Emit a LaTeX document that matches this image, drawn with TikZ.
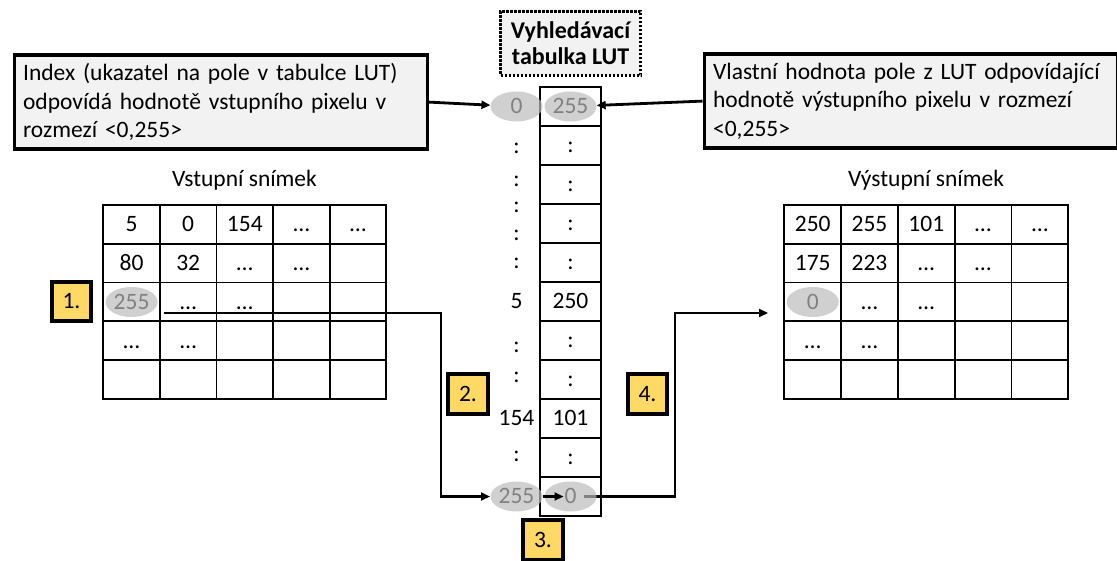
\documentclass[tikz,border=0pt]{standalone}
\usepackage{fontspec}
\setmainfont{Carlito}
\usetikzlibrary{positioning, arrows.meta, calc, shapes.geometric}
\definecolor{NoteGray}{HTML}{F2F2F2}
\definecolor{StepGold}{HTML}{FFD966}
\definecolor{HiGray}{HTML}{BBBBBB}

\tikzset{
  cell/.style={draw, line width=1.8pt, minimum width=56.7pt, minimum height=38.8pt,
    inner sep=0pt, text height=14.6pt, text depth=0pt},
  lutcell/.style={draw, line width=1.5pt, minimum width=61pt, minimum height=39pt,
    inner sep=0pt, text height=14.6pt, text depth=0pt},
  idx/.style={inner sep=1pt, text height=14.6pt, text depth=0pt},
  hilite/.style={ellipse, fill=HiGray, fill opacity=0.69, minimum width=52pt,
    minimum height=30pt, inner sep=0pt},
  note/.style={draw, line width=3.2pt, fill=NoteGray, anchor=north west, align=left,
    text width=395pt, inner xsep=9pt, minimum height=94pt},
  titlebox/.style={draw, line width=2.6pt, dash pattern=on 2.2pt off 1.8pt, fill=NoteGray,
    align=center, minimum width=140pt, minimum height=64pt,
    font=\fontsize{24}{26}\selectfont\bfseries},
  stepno/.style={draw, line width=3.6pt, fill=StepGold, minimum size=39.5pt, inner sep=0pt},
  pointer/.style={line width=2.8pt, -{Triangle[length=9pt,width=8pt]}},
}

\begin{document}
\begin{tikzpicture}[x=1pt, y=-1pt, font=\fontsize{23.5}{28.5}\selectfont]
  \useasboundingbox (0,0) rectangle (1117,561);

  % input and output frames
  \foreach \vals [count=\r] in {{5,0,154,…,…},{80,32,…,…,{}},{255,…,…,{},{}},{…,…,{},{},{}},{{},{},{},{},{}}}
    \foreach \v [count=\c] in \vals
      \node[cell] (in-\r-\c) at ({103.3+56.6*(\c-0.5)},{205+38.8*(\r-0.5)}) {\v};
  \foreach \vals [count=\r] in {{250,255,101,…,…},{175,223,…,…,{}},{0,…,…,{},{}},{…,…,{},{},{}},{{},{},{},{},{}}}
    \foreach \v [count=\c] in \vals
      \node[cell] (out-\r-\c) at ({784.3+56.8*(\c-0.5)},{205+38.8*(\r-0.5)}) {\v};
  \node[anchor=base] (inlbl) at (244.5,186.5) {Vstupní snímek};
  \node[anchor=base] (outlbl) at (926,186.5) {Výstupní snímek};

  % lookup table
  \node[titlebox] (luttitle) at (570.5,43.5) {Vyhledávací\\tabulka LUT};
  \foreach \v [count=\k] in {255,:,:,:,:,250,:,:,101,:,0}
    \node[lutcell] (lut-\k) at (570.5,{67.5+39*\k}) {\v};
  \foreach \y/\v [count=\k] in {106.5/0,146/:,179/:,205/:,233/:,261/:,301.5/5,345/:,375/:,418.5/154,454/:,496.5/255}
    \node[idx] (idx-\k) at (516.5,\y) {\v};

  % notes
  \node[note] (idxnote) at (12.5,53.5)
    {Index (ukazatel na pole v tabulce LUT)\\odpovídá hodnotě vstupního pixelu v\\rozmezí <0,255>};
  \node[note] (valnote) at (702.5,52.5)
    {Vlastní hodnota pole z LUT odpovídající\\hodnotě výstupního pixelu v rozmezí\\<0,255>};

  \coordinate (srcA) at (164,313);
  \coordinate (turnA) at (441,313);
  \coordinate (turnB) at (675,313);
  \coordinate (dstB) at (768,313);
  \draw[pointer] (srcA) -- (turnA) |- (idx-12.center -| 490,0);
  \draw[pointer] ([xshift=13.5pt]lut-11.center) -| (turnB) -- (dstB);

  % highlighted values
  \node[hilite] (hi-in) at (in-3-1) {};
  \node[hilite] (hi-out) at (out-3-1) {};
  \node[hilite] (hi-idx0) at (idx-1) {};
  \node[hilite] (hi-val255) at (lut-1) {};
  \node[hilite] (hi-idx255) at (idx-12) {};
  \node[hilite] (hi-val0) at (lut-11) {};

  \draw[pointer] (hi-idx255.east) -- ([xshift=-7pt]lut-11.center);
  \draw[pointer] (idxnote.east) -- (hi-idx0);
  \draw[pointer] (valnote.west) -- (hi-val255);

  % steps
  \node[stepno] (st1) at (71.5,301.5) {1.};
  \node[stepno] (st2) at (468,394) {2.};
  \node[stepno] (st3) at (543,540) {3.};
  \node[stepno] (st4) at (647.5,394) {4.};
\end{tikzpicture}
\end{document}
